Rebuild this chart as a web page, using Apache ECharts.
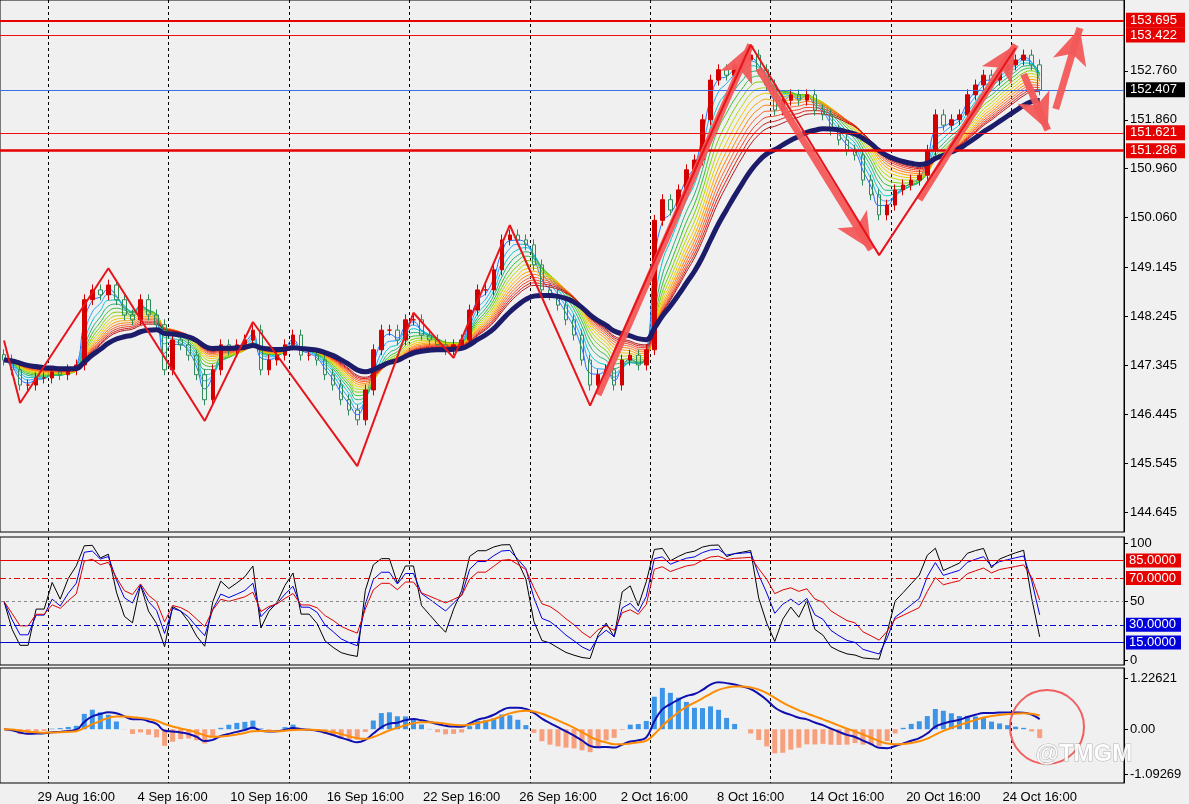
<!DOCTYPE html>
<html>
<head>
<meta charset="utf-8">
<script src="https://cdn.jsdelivr.net/npm/echarts@6/dist/echarts.min.js"></script>
<style>
  html,body{margin:0;padding:0;background:#fff;}
  #chart{width:1189px;height:804px;}
</style>
</head>
<body>
<div id="chart"></div>
<script>
// closes, one per bar
var closes = [147.44,147.26,146.98,146.98,147.11,147.11,147.22,147.17,147.26,147.35,
  148.55,148.73,148.64,148.82,148.55,148.27,148.18,148.55,148.27,148.09,
  147.26,147.81,147.72,147.53,147.17,146.71,147.26,147.72,147.63,147.72,
  147.81,147.99,147.26,147.44,147.53,147.72,147.90,147.53,147.53,147.44,
  147.17,146.98,146.71,146.52,146.34,146.89,147.63,147.99,147.99,147.81,
  148.18,148.18,147.90,147.81,147.72,147.63,147.72,147.81,148.36,148.73,
  148.73,149.10,149.65,149.74,149.65,149.56,149.19,148.73,148.64,148.45,
  148.18,147.90,147.44,146.98,147.17,147.26,146.98,147.44,147.53,147.35,
  147.63,150.01,150.39,150.20,150.57,150.94,151.12,151.86,152.59,152.78,
  152.68,152.87,152.96,153.05,152.78,152.50,152.04,152.22,152.32,152.22,
  152.32,152.04,151.95,151.67,151.49,151.30,151.21,150.75,150.48,150.11,
  150.29,150.57,150.66,150.75,150.84,151.30,151.95,151.76,151.86,151.95,
  152.32,152.50,152.68,152.59,152.78,152.87,152.96,153.05,152.87,152.41];
var totalSlots = 140;
var dateLabels = ['29 Aug 16:00','4 Sep 16:00','10 Sep 16:00','16 Sep 16:00','22 Sep 16:00',
  '26 Sep 16:00','2 Oct 16:00','8 Oct 16:00','14 Oct 16:00','20 Oct 16:00','24 Oct 16:00'];
var priceTicks = [144.645,145.545,146.445,147.345,148.245,149.145,150.060,150.960,151.860,152.760];
var oscTicks = [0,50,100];
var macdTicks = [-1.09269,0,1.22621];
// zigzag vertices [bar index, price]
var zigzag = [[0,147.80],[2,146.65],[13,149.13],[25,146.32],[31,148.14],[44,145.49],[51,148.31],
  [56,147.48],[63,149.92],[73,146.60],[93,153.24],[109,149.37],[126,153.18]];
// thick arrows [from index, from price, to index, to price]
var arrows = [[74,146.80,93,153.24],[94,152.80,108,149.47],[114,150.39,126,153.24],
  [127,152.70,130,151.67],[131,152.06,134,153.55]];
// horizontal levels
var levels = [
  {v:153.695,c:'#e60000',w:2,bg:'#e60000'},
  {v:153.422,c:'#ee1010',w:1.2,bg:'#e60000'},
  {v:152.407,c:'#3a6ee8',w:1,bg:'#000'},
  {v:151.621,c:'#ee1010',w:1.2,bg:'#e60000'},
  {v:151.286,c:'#e60000',w:2.5,bg:'#e60000'}];
var oscLevels = [
  {v:85,c:'#e60000',t:'solid',bg:'#e60000',lab:true},
  {v:70,c:'#e60000',t:[6,3,2,3],bg:'#e60000',lab:true},
  {v:50,c:'#888',t:[3,3],bg:null,lab:false},
  {v:30,c:'#0000cc',t:[6,3,2,3],bg:'#0000dd',lab:true},
  {v:15,c:'#0000cc',t:'solid',bg:'#0000dd',lab:true}];
var ribbonPeriods = [2,3,4,5,6,7,8,9,10,11,12,13,14,15];
var ribbonColors = ['#1e6fff','#1fa5ff','#00c8d0','#20b070','#30c030','#7ad000','#b8d800',
  '#f0c800','#ffa500','#ff8000','#ff6030','#f04020','#d81818','#b01010'];

function ema(arr,p){
  var k=2/(p+1),out=[],prev=arr[0];
  for(var i=0;i<arr.length;i++){prev=i==0?arr[0]:arr[i]*k+prev*(1-k);out.push(+prev.toFixed(4));}
  return out;
}
function rsi(arr,p){
  var out=[],g=0.05,l=0.05;
  for(var i=0;i<arr.length;i++){
    if(i==0){out.push(50);continue;}
    var d=arr[i]-arr[i-1];
    var up=d>0?d:0,dn=d<0?-d:0;
    g=(g*(p-1)+up)/p;l=(l*(p-1)+dn)/p;
    out.push(l==0?100:+(100-100/(1+g/l)).toFixed(2));
  }
  return out;
}

var cats=[];for(var i=0;i<totalSlots;i++){cats.push(String(i));}
var candles=[];
for(var i=0;i<closes.length;i++){
  var o=i==0?closes[0]+0.1:closes[i-1],c=closes[i];
  candles.push([o,c,+(Math.min(o,c)-0.1).toFixed(3),+(Math.max(o,c)+0.1).toFixed(3)]);
}
var zz=[];for(var i=0;i<totalSlots;i++){zz.push(null);}
zigzag.forEach(function(p){zz[p[0]]=p[1];});

var fast=ema(closes,6),slow=ema(closes,13),macd=[],sig,hist=[];
for(var i=0;i<closes.length;i++){macd.push(+(fast[i]-slow[i]).toFixed(4));}
sig=ema(macd,5);
for(var i=0;i<closes.length;i++){hist.push(+((macd[i]-sig[i])*2.5).toFixed(4));}

var font='Liberation Sans';
function xAxisFor(idx,show){
  return {type:'category',data:cats,gridIndex:idx,boundaryGap:true,
    axisLine:{show:false},axisTick:{show:false},
    axisLabel:{show:show,color:'#000',fontFamily:font,fontSize:13,margin:8,
      interval:function(i){return (i-9)%12==0;},
      formatter:function(v,i){return dateLabels[(i-9)/12]||'';}},
    splitLine:{show:true,interval:function(i){return (i-6)%15==0;},lineStyle:{color:'#000',type:[3,3],width:1}}};
}
function yAxisFor(idx,min,max,ticks,fmt){
  return {type:'value',gridIndex:idx,position:'right',min:min,max:max,scale:true,
    axisLine:{show:true,lineStyle:{color:'#000'}},
    axisTick:{show:true,customValues:ticks,length:4,lineStyle:{color:'#000'}},
    axisLabel:{customValues:ticks,color:'#000',fontFamily:font,fontSize:13,margin:6,formatter:fmt},
    splitLine:{show:false}};
}

var series=[];
series.push({type:'candlestick',xAxisIndex:0,yAxisIndex:0,data:candles,barWidth:4,z:3,
  itemStyle:{color:'#d40000',color0:'rgba(0,0,0,0)',borderColor:'#d40000',borderColor0:'#2e8b57',borderWidth:1}});
// price levels on their own series
series.push({type:'line',xAxisIndex:0,yAxisIndex:0,data:[],z:7,
  markLine:{silent:true,symbol:'none',animation:false,
    data:levels.map(function(l){return {yAxis:l.v,lineStyle:{color:l.c,width:l.w,type:'solid',opacity:1},
      label:{show:true,position:'end',formatter:l.v.toFixed(3),color:'#fff',backgroundColor:l.bg,
        fontFamily:font,fontSize:13,padding:[1,8,1,4],distance:2}};})}});
ribbonPeriods.forEach(function(p,k){
  series.push({type:'line',xAxisIndex:0,yAxisIndex:0,data:ema(closes,p),showSymbol:false,smooth:true,
    lineStyle:{color:ribbonColors[k],width:1},z:2});
});
series.push({type:'line',xAxisIndex:0,yAxisIndex:0,data:ema(closes,20),showSymbol:false,smooth:true,
  lineStyle:{color:'#1c1c6a',width:5},z:4});
series.push({type:'line',xAxisIndex:0,yAxisIndex:0,data:zz,connectNulls:true,showSymbol:false,
  lineStyle:{color:'#e8141c',width:2},z:5});
series.push({type:'line',xAxisIndex:0,yAxisIndex:0,data:[],z:6,
  markLine:{silent:true,animation:false,
    lineStyle:{color:'#f25858',width:7,type:'solid',opacity:0.95},label:{show:false},
    data:arrows.map(function(a){return [{coord:[String(a[0]),a[1]],symbol:'none'},
      {coord:[String(a[2]),a[3]],symbol:'arrow',symbolSize:[26,36]}];})}});

series.push({type:'line',xAxisIndex:1,yAxisIndex:1,data:rsi(closes,3),showSymbol:false,
  lineStyle:{color:'#000',width:1},z:3,
  markLine:{silent:true,symbol:'none',animation:false,
    data:oscLevels.map(function(l){return {yAxis:l.v,lineStyle:{color:l.c,type:l.t,width:1},
      label:{show:l.lab,position:'end',formatter:l.v.toFixed(4),color:'#fff',backgroundColor:l.bg||'transparent',
        fontFamily:font,fontSize:13,padding:[1,5,0,3],distance:2}};})}});
series.push({type:'line',xAxisIndex:1,yAxisIndex:1,data:rsi(closes,5),showSymbol:false,lineStyle:{color:'#0000e0',width:1},z:3});
series.push({type:'line',xAxisIndex:1,yAxisIndex:1,data:rsi(closes,8),showSymbol:false,lineStyle:{color:'#e00000',width:1},z:3});

series.push({type:'bar',xAxisIndex:2,yAxisIndex:2,barWidth:5,z:2,
  data:hist.map(function(v){return {value:v,itemStyle:{color:v>=0?'#3d95e8':'#f6a07e'}};})});
series.push({type:'line',xAxisIndex:2,yAxisIndex:2,data:macd,showSymbol:false,smooth:true,lineStyle:{color:'#1010b0',width:2},z:4});
series.push({type:'line',xAxisIndex:2,yAxisIndex:2,data:sig,showSymbol:false,smooth:true,lineStyle:{color:'#ff8c00',width:2},z:4});

var chart=echarts.init(document.getElementById('chart'));
chart.setOption({
  backgroundColor:'#f0f0f0',
  animation:false,
  grid:[
    {left:0,right:65,top:0,height:532,show:true,borderColor:'#000',borderWidth:1,backgroundColor:'#f0f0f0'},
    {left:0,right:65,top:537,height:128,show:true,borderColor:'#000',borderWidth:1},
    {left:0,right:65,top:668,height:120,show:true,borderColor:'#000',borderWidth:1}],
  xAxis:[xAxisFor(0,false),xAxisFor(1,false),xAxisFor(2,true)],
  yAxis:[
    yAxisFor(0,144.277,154.063,priceTicks,function(v){return v.toFixed(3);}),
    yAxisFor(1,-4.3,105.1,oscTicks,function(v){return String(v);}),
    yAxisFor(2,-1.30,1.48,macdTicks,function(v){return v==0?'0.00':String(v);})],
  series:series,
  graphic:[
    {type:'circle',shape:{cx:1047,cy:727,r:37},style:{fill:'none',stroke:'#f06060',lineWidth:2},z:10},
    {type:'text',left:1035,top:742,style:{text:'@TMGM',fill:'rgba(255,255,255,0.9)',stroke:'rgba(120,120,120,0.5)',lineWidth:1,
      font:'bold 24px "Liberation Sans"'},z:10}]
});
</script>
</body>
</html>
